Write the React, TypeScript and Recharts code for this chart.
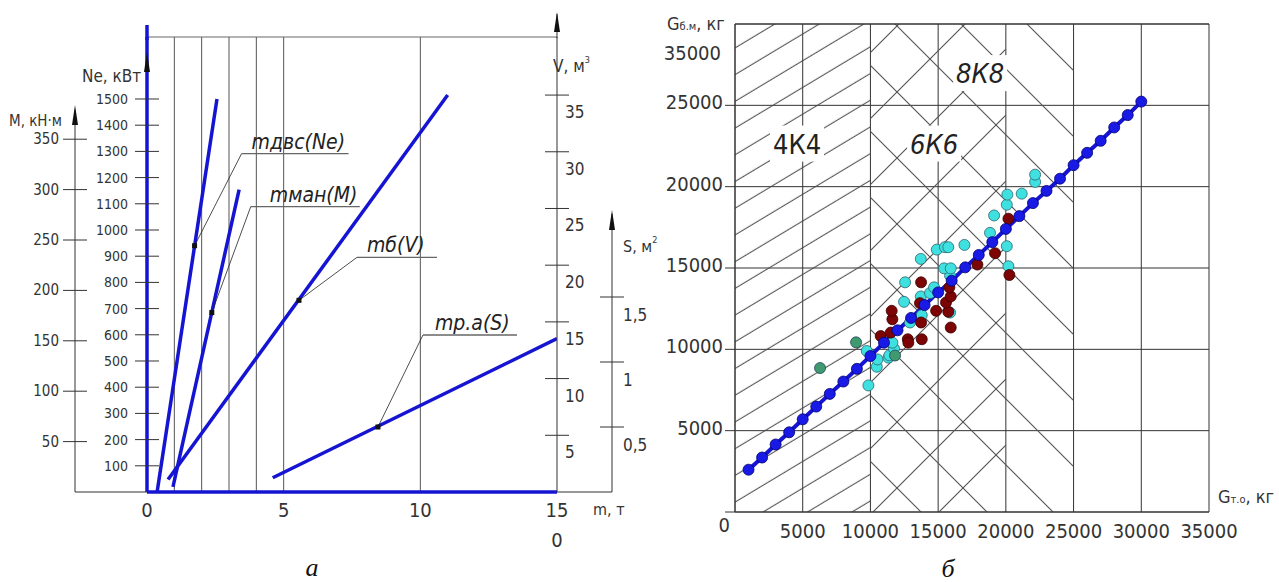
import React from "react";
import {
  ComposedChart,
  Line,
  Scatter,
  XAxis,
  YAxis,
  CartesianGrid,
  ReferenceLine,
  ReferenceArea,
  ReferenceDot,
} from "recharts";

const FONT = "'Liberation Sans Narrow', 'DejaVu Sans Condensed', sans-serif";
const SERIF = "'Liberation Serif', 'DejaVu Serif', serif";
const BLUE = "#1414d2";
const INK = "#333";

// ---------- panel a: unit parameters vs machine mass m, t ----------
const massTicks = [0, 5, 10, 15];
const massGrid = [1, 2, 3, 4, 5, 10];
const powerTicks = [100, 200, 300, 400, 500, 600, 700, 800, 900, 1000, 1100, 1200, 1300, 1400, 1500];
const torqueTicks = [50, 100, 150, 200, 250, 300, 350];
const volumeTicks = [5, 10, 15, 20, 25, 30, 35];
const areaTicks = [0.5, 1, 1.5];
const areaTickLabels = ["0,5", "1", "1,5"];

const enginePower = [{ m: 0.37, v: 0 }, { m: 2.56, v: 1500 }];
const craneTorque = [{ m: 0.95, v: 5 }, { m: 3.37, v: 300 }];
const tankVolume = [{ m: 0.77, v: 1.1 }, { m: 11, v: 35 }];
const toolArea = [{ m: 4.6, v: 0.11 }, { m: 15, v: 1.18 }];

// axis ids: right-hand axes are laid out in id order (inner first)
const AX = { ne: "l1", tq: "l2", vol: "r1", area: "r2" };

const callouts = [
  { id: "ne", text: "mдвс(Ne)", m: 1.74, v: 940 },
  { id: "tq", text: "mман(M)", m: 2.37, v: 178 },
  { id: "vol", text: "mб(V)", m: 5.56, v: 16.9 },
  { id: "area", text: "mр.а(S)", m: 8.45, v: 0.5 },
];
// leader offsets in px
const calloutStyle: Record<string, { dx: number; dy: number; len: number; tx: number }> = {
  ne: { dx: 47, dy: -92, len: 107, tx: 10 },
  tq: { dx: 39, dy: -106, len: 109, tx: 19 },
  vol: { dx: 58, dy: -43, len: 80, tx: 10 },
  area: { dx: 45, dy: -92, len: 94, tx: 12 },
};

// ---------- panel б: Gб.м vs Gт.о, kg ----------
const gXTicks = [5000, 10000, 15000, 20000, 25000, 30000, 35000];
const gYTicks = [0, 5000, 10000, 15000, 20000, 25000];

const fitLine = [
  { x: 1000, y: 2600 }, { x: 2000, y: 3350 }, { x: 3000, y: 4150 }, { x: 4000, y: 4900 },
  { x: 5000, y: 5700 }, { x: 6000, y: 6480 }, { x: 7000, y: 7260 }, { x: 8000, y: 8020 },
  { x: 9000, y: 8800 }, { x: 10000, y: 9590 }, { x: 11000, y: 10410 }, { x: 12000, y: 11170 },
  { x: 13000, y: 11930 }, { x: 14000, y: 12720 }, { x: 15000, y: 13500 }, { x: 16000, y: 14220 },
  { x: 17000, y: 15040 }, { x: 18000, y: 15800 }, { x: 19000, y: 16590 }, { x: 20000, y: 17400 },
  { x: 21000, y: 18190 }, { x: 22000, y: 18990 }, { x: 23000, y: 19740 }, { x: 24000, y: 20490 },
  { x: 25000, y: 21320 }, { x: 26000, y: 22080 }, { x: 27000, y: 22820 }, { x: 28000, y: 23640 },
  { x: 29000, y: 24400 }, { x: 30000, y: 25230 },
];

const cyanPts = [
  { x: 9850, y: 7780 }, { x: 9730, y: 9900 }, { x: 10470, y: 8930 }, { x: 10520, y: 9380 },
  { x: 11330, y: 9490 }, { x: 11400, y: 9630 }, { x: 11740, y: 10040 }, { x: 11620, y: 10410 },
  { x: 12920, y: 11650 }, { x: 12480, y: 12920 }, { x: 13790, y: 12100 }, { x: 15880, y: 12260 },
  { x: 13720, y: 13250 }, { x: 14400, y: 13460 }, { x: 14700, y: 13810 }, { x: 12560, y: 14120 },
  { x: 15880, y: 14530 }, { x: 15440, y: 14980 }, { x: 15930, y: 14980 }, { x: 13720, y: 15560 },
  { x: 14900, y: 16130 }, { x: 15500, y: 16280 }, { x: 15750, y: 16280 }, { x: 16940, y: 16420 },
  { x: 18830, y: 17160 }, { x: 19130, y: 18230 }, { x: 20070, y: 18890 }, { x: 20110, y: 19510 },
  { x: 20070, y: 16340 }, { x: 20190, y: 15110 }, { x: 21170, y: 19570 }, { x: 22160, y: 20290 },
  { x: 22160, y: 20740 },
];

const redPts = [
  { x: 10760, y: 10820 }, { x: 11500, y: 11030 }, { x: 12760, y: 10620 }, { x: 12800, y: 10410 },
  { x: 13790, y: 10620 }, { x: 11620, y: 11850 }, { x: 11570, y: 12370 }, { x: 13740, y: 11650 },
  { x: 13660, y: 12840 }, { x: 14850, y: 12370 }, { x: 15750, y: 12310 }, { x: 15580, y: 12880 },
  { x: 15930, y: 11340 }, { x: 15930, y: 13250 }, { x: 15830, y: 13810 }, { x: 13740, y: 14120 },
  { x: 17900, y: 15210 }, { x: 19200, y: 15910 }, { x: 20260, y: 14570 }, { x: 20190, y: 18030 },
];

const greenPts = [{ x: 6280, y: 8850 }, { x: 8940, y: 10430 }, { x: 11820, y: 9620 }];

const zones = [
  { label: "4К4", x1: 0, x2: 10000, fill: "url(#hatch4)", lx: 4580, ly: 22650, italic: false },
  { label: "6К6", x1: 10000, x2: 20000, fill: "url(#hatch6)", lx: 14700, ly: 22650, italic: true },
  { label: "8К8", x1: 10000, x2: 25000, fill: "url(#hatch8)", lx: 18100, ly: 26980, italic: true },
];

// ---------- tick renderers ----------
const crossTick =
  (anchor: "end" | "start", size: number, dx: number, dy: number, labels?: Record<number, string>) =>
  (p: any) => {
    const { x, y, payload } = p;
    const text = labels ? labels[payload.value] : String(payload.value);
    return (
      <g>
        <line x1={x - 12} x2={x + 12} y1={y} y2={y} stroke={INK} strokeWidth={1} />
        <text x={x + dx} y={y + dy} textAnchor={anchor} fontSize={size} fontFamily={FONT} fill={INK}>
          {text}
        </text>
      </g>
    );
  };

const areaLabelMap: Record<number, string> = {};
areaTicks.forEach((t, i) => (areaLabelMap[t] = areaTickLabels[i]));

const massTick = (p: any) => (
  <text x={p.x} y={p.y + 25} textAnchor="middle" fontSize={20} fontFamily={FONT} fill={INK}>
    {p.payload.value}
  </text>
);

const gXTick = (p: any) => (
  <text x={p.x} y={p.y + 26} textAnchor="middle" fontSize={20} fontFamily={FONT} fill={INK}>
    {p.payload.value}
  </text>
);

const gYTick = (p: any) => {
  const zero = p.payload.value === 0;
  return (
    <text
      x={zero ? p.x + 7 : p.x}
      y={zero ? p.y + 20 : p.y + 4}
      textAnchor="end"
      fontSize={20}
      fontFamily={FONT}
      fill={INK}
    >
      {p.payload.value}
    </text>
  );
};

const calloutShape = (id: string, text: string) => (p: any) => {
  const s = calloutStyle[id];
  const ux = p.cx + s.dx;
  const uy = p.cy + s.dy;
  return (
    <g>
      <line x1={p.cx} y1={p.cy} x2={ux} y2={uy} stroke="#222" strokeWidth={0.8} />
      <line x1={ux} y1={uy} x2={ux + s.len} y2={uy} stroke="#666" strokeWidth={1.3} />
      <rect x={p.cx - 2.5} y={p.cy - 2.5} width={5} height={5} fill="#111" />
      <text x={ux + s.tx} y={uy - 5} fontSize={21} fontStyle="italic" fontFamily={FONT} fill="#222">
        {text}
      </text>
    </g>
  );
};

const zoneLabel = (label: string, italic: boolean) => (p: any) => (
  <g>
    <rect x={p.cx - 27} y={p.cy - 18} width={54} height={36} fill="#fff" />
    <text
      x={p.cx}
      y={p.cy + 10}
      textAnchor="middle"
      fontSize={27}
      fontStyle={italic ? "italic" : "normal"}
      fontFamily={FONT}
      fill="#222"
    >
      {label}
    </text>
  </g>
);

const dotShape = (fill: string, stroke: string) => (p: any) => (
  <circle cx={p.cx} cy={p.cy} r={5.5} fill={fill} stroke={stroke} strokeWidth={0.8} />
);

const LeftChart = () => (
  <ComposedChart width={700} height={582} margin={{ top: 37, right: 28, bottom: 60, left: 0 }}>
    <XAxis
      type="number"
      dataKey="m"
      domain={[0, 15]}
      ticks={massTicks}
      interval={0}
      height={30}
      axisLine={{ stroke: BLUE, strokeWidth: 3.5 }}
      tickLine={false}
      tickSize={0}
      tickMargin={0}
      tick={massTick}
      allowDataOverflow
    />
    <YAxis
      yAxisId={AX.ne}
      width={72}
      domain={[0, 1736.6]}
      ticks={powerTicks}
      interval={0}
      axisLine={{ stroke: BLUE, strokeWidth: 3.5 }}
      tickLine={false}
      tickSize={0}
      tickMargin={0}
      tick={crossTick("end", 14, -19, 5)}
      allowDataOverflow
    />
    <YAxis
      yAxisId={AX.tq}
      width={75}
      domain={[0, 451.4]}
      ticks={torqueTicks}
      interval={0}
      axisLine={false}
      tickLine={false}
      tickSize={0}
      tickMargin={0}
      tick={crossTick("end", 15, -16, 5)}
      allowDataOverflow
    />
    <YAxis
      yAxisId={AX.vol}
      orientation="right"
      width={55}
      domain={[0, 40.12]}
      ticks={volumeTicks}
      interval={0}
      axisLine={{ stroke: INK }}
      tickLine={false}
      tickSize={0}
      tickMargin={0}
      tick={crossTick("start", 17, 8, 23)}
      allowDataOverflow
    />
    <YAxis
      yAxisId={AX.area}
      orientation="right"
      width={60}
      domain={[0, 3.5]}
      ticks={areaTicks}
      interval={0}
      axisLine={false}
      tickLine={false}
      tickSize={0}
      tickMargin={0}
      tick={crossTick("start", 17, 11, 24, areaLabelMap)}
      allowDataOverflow
    />
    {massGrid.map((m) => (
      <ReferenceLine key={m} yAxisId={AX.ne} x={m} stroke="#555" strokeWidth={1} />
    ))}
    <ReferenceLine yAxisId={AX.ne} y={1736.6} stroke="#666" strokeWidth={1} />
    <Line yAxisId={AX.ne} data={enginePower} dataKey="v" stroke={BLUE} strokeWidth={3.5} dot={false} isAnimationActive={false} />
    <Line yAxisId={AX.tq} data={craneTorque} dataKey="v" stroke={BLUE} strokeWidth={3.5} dot={false} isAnimationActive={false} />
    <Line yAxisId={AX.vol} data={tankVolume} dataKey="v" stroke={BLUE} strokeWidth={3.5} dot={false} isAnimationActive={false} />
    <Line yAxisId={AX.area} data={toolArea} dataKey="v" stroke={BLUE} strokeWidth={3.5} dot={false} isAnimationActive={false} />
    {callouts.map((c) => (
      <ReferenceDot
        key={c.id}
        yAxisId={(AX as any)[c.id]}
        x={c.m}
        y={c.v}
        r={3}
        ifOverflow="visible"
        shape={calloutShape(c.id, c.text)}
      />
    ))}
  </ComposedChart>
);

const RightChart = () => (
  <ComposedChart width={639} height={582} margin={{ top: 24, right: 70, bottom: 30, left: 0 }}>
    <XAxis
      type="number"
      dataKey="x"
      domain={[0, 35000]}
      ticks={gXTicks}
      interval={0}
      height={40}
      axisLine={{ stroke: INK }}
      tickLine={false}
      tickSize={0}
      tickMargin={0}
      tick={gXTick}
      allowDataOverflow
    />
    <YAxis
      type="number"
      dataKey="y"
      domain={[0, 30000]}
      ticks={gYTicks}
      interval={0}
      width={95}
      axisLine={{ stroke: INK }}
      tickLine={{ stroke: INK }}
      tickSize={10}
      tick={gYTick}
      allowDataOverflow
    />
    <CartesianGrid stroke={INK} strokeWidth={1} />
    {zones.map((z) => (
      <ReferenceArea key={z.label} x1={z.x1} x2={z.x2} y1={0} y2={30000} fill={z.fill} fillOpacity={1} stroke="none" />
    ))}
    <ReferenceLine y={30000} stroke={INK} strokeWidth={1} />
    <Scatter data={cyanPts} dataKey="y" shape={dotShape("#3fe0e0", "#2b6470")} isAnimationActive={false} />
    <Scatter data={redPts} dataKey="y" shape={dotShape("#7c0404", "#3a0000")} isAnimationActive={false} />
    <Scatter data={greenPts} dataKey="y" shape={dotShape("#3f9a70", "#23405a")} isAnimationActive={false} />
    <Line
      data={fitLine}
      dataKey="y"
      stroke={BLUE}
      strokeWidth={4}
      dot={(p: any) => <circle key={p.index} cx={p.cx} cy={p.cy} r={5.5} fill="#1a1ae6" stroke="#000070" strokeWidth={0.8} />}
      isAnimationActive={false}
    />
    {zones.map((z) => (
      <ReferenceDot key={"l" + z.label} x={z.lx} y={z.ly} r={1} shape={zoneLabel(z.label, z.italic)} />
    ))}
  </ComposedChart>
);

const Arrow = ({ x, tip }: { x: number; tip: number }) => (
  <polygon points={`${x},${tip} ${x - 3},${tip + 20} ${x + 3},${tip + 20}`} fill="#111" />
);

const Overlay = () => (
  <svg width={1279} height={582} style={{ position: "absolute", left: 0, top: 0, pointerEvents: "none" }}>
    {/* panel a axes decorations */}
    <line x1={147} y1={25} x2={147} y2={40} stroke={BLUE} strokeWidth={3.5} />
    <Arrow x={147} tip={52} />
    <line x1={75} y1={110} x2={75} y2={492} stroke={INK} />
    <line x1={75} y1={492} x2={147} y2={492} stroke={INK} />
    <Arrow x={75} tip={105} />
    <line x1={557} y1={14} x2={557} y2={38} stroke={INK} />
    <Arrow x={557} tip={12} />
    <line x1={612} y1={214} x2={612} y2={492} stroke={INK} />
    <line x1={557} y1={492} x2={612} y2={492} stroke={INK} />
    <Arrow x={612} tip={210} />
    <g fontFamily={FONT} fill={INK}>
      <text x={82} y={82} fontSize={17}>Ne, кВт</text>
      <text x={9} y={126} fontSize={15}>M, кН·м</text>
      <text x={553} y={72} fontSize={17}>
        V, м<tspan dy={-9} fontSize={9}>3</tspan>
      </text>
      <text x={623} y={252} fontSize={16}>
        S, м<tspan dy={-9} fontSize={9}>2</tspan>
      </text>
      <text x={593} y={515} fontSize={16}>m, т</text>
      <text x={557} y={547} fontSize={20} textAnchor="middle">0</text>
      {/* panel б */}
      <text x={667} y={30} fontSize={18}>
        G<tspan fontSize={11}>б.м</tspan>, кг
      </text>
      <text x={1218} y={503} fontSize={18}>
        G<tspan fontSize={11}>т.о</tspan>, кг
      </text>
      <text x={721} y={60} fontSize={20} textAnchor="end">35000</text>
    </g>
    <text x={312} y={576} fontSize={26} fontStyle="italic" fontFamily={SERIF} textAnchor="middle" fill="#111">а</text>
    <text x={948} y={577} fontSize={26} fontStyle="italic" fontFamily={SERIF} textAnchor="middle" fill="#111">б</text>
  </svg>
);

const Patterns = () => (
  <svg width={0} height={0} style={{ position: "absolute" }}>
    <defs>
      <pattern id="hatch4" patternUnits="userSpaceOnUse" width={20} height={22.9} patternTransform="rotate(-31)">
        <line x1={0} y1={21.3} x2={20} y2={21.3} stroke="#444" strokeWidth={1} />
      </pattern>
      <pattern id="hatch6" patternUnits="userSpaceOnUse" width={20} height={46.67} patternTransform="rotate(-45)">
        <line x1={0} y1={13.4} x2={20} y2={13.4} stroke="#555" strokeWidth={1} />
      </pattern>
      <pattern id="hatch8" patternUnits="userSpaceOnUse" width={20} height={46.67} patternTransform="rotate(45)">
        <line x1={0} y1={23.3} x2={20} y2={23.3} stroke="#555" strokeWidth={1} />
      </pattern>
    </defs>
  </svg>
);

export default function App() {
  return (
    <div style={{ position: "absolute", left: 0, top: 0, width: 1279, height: 582, background: "#fff" }}>
      <Patterns />
      <div style={{ position: "absolute", left: 0, top: 0 }}>
        <LeftChart />
      </div>
      <div style={{ position: "absolute", left: 640, top: 0 }}>
        <RightChart />
      </div>
      <Overlay />
    </div>
  );
}
